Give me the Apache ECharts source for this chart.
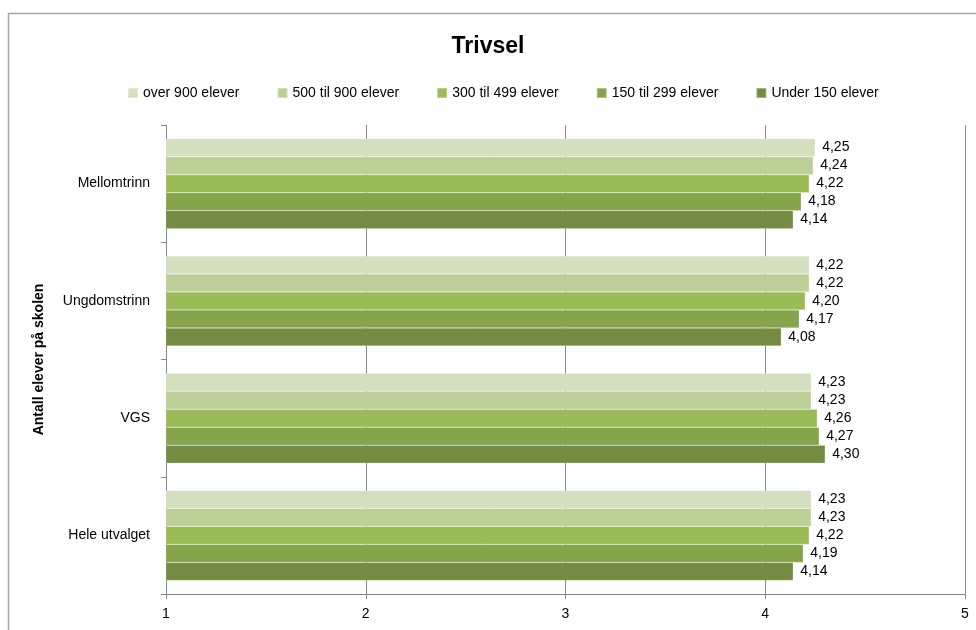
<!DOCTYPE html>
<html>
<head>
<meta charset="utf-8">
<script src="https://cdn.jsdelivr.net/npm/echarts@6/dist/echarts.min.js"></script>
<style>html,body{margin:0;padding:0;background:#fff}#c{width:976px;height:630px}</style>
</head>
<body>
<div id="c"></div>
<script>
const categories = ['Mellomtrinn', 'Ungdomstrinn', 'VGS', 'Hele utvalget'];
const seriesNames = ['over 900 elever', '500 til 900 elever', '300 til 499 elever', '150 til 299 elever', 'Under 150 elever'];
const over900 = [4.25, 4.22, 4.23, 4.23];
const s500to900 = [4.24, 4.22, 4.23, 4.23];
const s300to499 = [4.22, 4.20, 4.26, 4.22];
const s150to299 = [4.18, 4.17, 4.27, 4.19];
const under150 = [4.14, 4.08, 4.30, 4.14];
const xTicks = [1, 2, 3, 4, 5];
const colors = ['#d3dfbf', '#bccf97', '#9bbb59', '#86a44b', '#748c42'];

const seriesData = [over900, s500to900, s300to499, s150to299, under150];
const font = '"Liberation Sans", Arial, sans-serif';

const chart = echarts.init(document.getElementById('c'), null, {renderer: 'canvas'});
chart.setOption({
  animation: false,
  backgroundColor: '#fff',
  textStyle: {fontFamily: font},
  graphic: [{
    type: 'rect', left: 6, top: 11, shape: {width: 1000, height: 700},
    style: {fill: 'none', stroke: '#a6a6a6', lineWidth: 1.5}, silent: true, z: -1
  }],
  title: {
    text: 'Trivsel', left: 'center', top: 30,
    textStyle: {fontFamily: font, fontSize: 23, fontWeight: 'bold', color: '#000'}
  },
  legend: {
    top: 81, left: 122,
    itemWidth: 10, itemHeight: 10, itemGap: 37,
    icon: 'rect',
    textStyle: {fontFamily: font, fontSize: 14, color: '#000'},
    data: seriesNames
  },
  grid: {left: 166, right: 11, top: 125, bottom: 36, containLabel: false},
  xAxis: {
    type: 'value', min: 1, max: 5, interval: 1,
    axisLine: {show: true, lineStyle: {color: '#868686'}},
    axisTick: {show: true, length: 5, lineStyle: {color: '#868686'}},
    splitLine: {show: true, lineStyle: {color: '#868686'}},
    axisLabel: {fontFamily: font, fontSize: 14, color: '#000', margin: 13,
      formatter: v => String(v)}
  },
  yAxis: {
    type: 'category', data: categories, inverse: true,
    axisLine: {show: true, lineStyle: {color: '#868686'}},
    axisTick: {show: true, length: 5, lineStyle: {color: '#868686'}},
    axisLabel: {fontFamily: font, fontSize: 14, color: '#000', margin: 16},
    name: 'Antall elever på skolen', nameLocation: 'middle', nameGap: 120,
    nameRotate: 90,
    nameTextStyle: {fontFamily: font, fontSize: 14, fontWeight: 'bold', color: '#000'}
  },
  series: seriesNames.map((n, i) => ({
    name: n, type: 'bar', data: seriesData[i],
    barWidth: 18, barGap: '0%',
    itemStyle: {color: colors[i], borderColor: 'rgba(255,255,255,0.35)', borderWidth: 0.5},
    label: {
      show: true, position: 'right', distance: 7,
      fontFamily: font, fontSize: 14, color: '#000',
      formatter: p => p.value.toFixed(2).replace('.', ',')
    }
  }))
});
</script>
</body>
</html>
